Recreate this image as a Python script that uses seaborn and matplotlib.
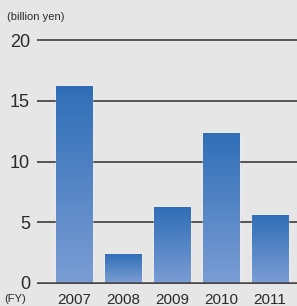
import numpy as np
import pandas as pd
import matplotlib
matplotlib.use('Agg')
import matplotlib.pyplot as plt
import seaborn as sns
from matplotlib.colors import LinearSegmentedColormap

# 데이터
years = ['2007', '2008', '2009', '2010', '2011']
values = [16.2, 2.4, 6.25, 12.35, 5.6]
yticks = [0, 5, 10, 15, 20]

df = pd.DataFrame({'FY': years, 'value': values})

sns.set_style('white')
plt.rcParams['font.family'] = ['Liberation Sans', 'DejaVu Sans']

fig = plt.figure(figsize=(2.97, 3.06), dpi=100, facecolor='#e6e6e6')
ax = fig.add_axes([37/297, (306-283-1.2)/306, 260/297, (243+2.4)/306])
ax.set_facecolor('none')

sns.barplot(data=df, x='FY', y='value', color='#3a73bb', width=0.74, ax=ax, zorder=3)

# 막대 그라데이션
cmap = LinearSegmentedColormap.from_list('bar', ['#7b9dd4', '#2f6eb7'])
grad = np.linspace(0, 1, 256).reshape(-1, 1)
for p in ax.patches:
    x0, y0 = p.get_x(), p.get_y()
    w, h = p.get_width(), p.get_height()
    im = ax.imshow(grad, cmap=cmap, aspect='auto', origin='lower',
                   extent=[x0, x0 + w, y0, y0 + h], zorder=4)
    im.set_clip_path(p)

ax.set_xlim(-0.76, 4.55)
ax.set_ylim(-0.1, 20.1)
ax.set_yticks(yticks)
for t in yticks[1:]:
    ax.axhline(t, color='#5a5555', lw=1.4, zorder=1)
ax.axhline(0, color='#4a4545', lw=1.8, zorder=5)

for s in ax.spines.values():
    s.set_visible(False)
ax.tick_params(axis='y', length=0, pad=5, labelsize=13, labelcolor='#2a2a2a')
ax.tick_params(axis='x', length=0, pad=6.5, labelsize=11, labelcolor='#2a2a2a')
ax.set_xlabel('')
ax.set_ylabel('')

fig.text(7/297, 1-17/306, '(billion yen)', fontsize=8, color='#2a2a2a', va='center')
fig.text(4/297, 1-299/306, '(FY)', fontsize=8, color='#2a2a2a', va='center')

fig.savefig('out.png', dpi=100, facecolor=fig.get_facecolor())
